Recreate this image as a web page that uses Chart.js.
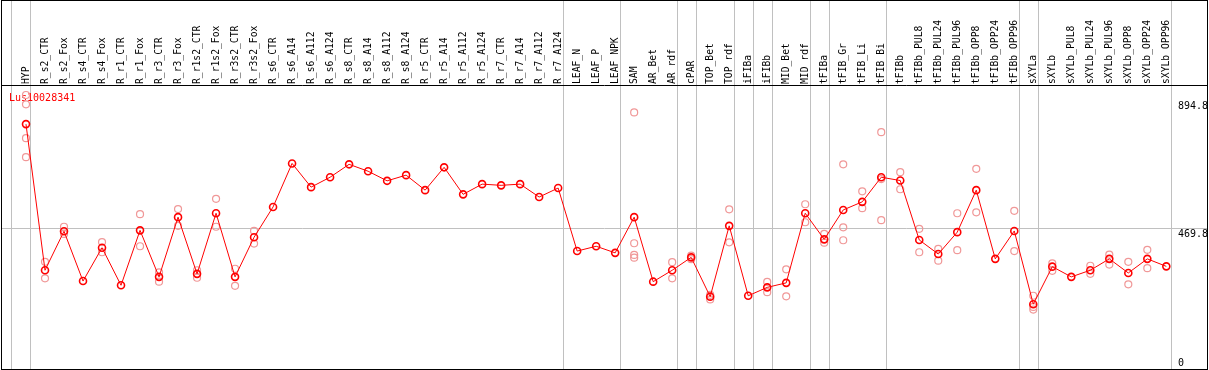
<!DOCTYPE html>
<html>
<head>
<meta charset="utf-8">
<script src="https://cdn.jsdelivr.net/npm/chart.js@4.4.0/dist/chart.umd.min.js"></script>
<style>
  html, body { margin: 0; padding: 0; background: #fff; }
  canvas { display: block; }
</style>
</head>
<body>
<canvas id="exprChart" width="1209" height="370"></canvas>
<script>
// gene + sample names
const geneName = 'Lus10028341';
const categories = [
  'HYP', 'R_s2_CTR', 'R_s2_Fox', 'R_s4_CTR', 'R_s4_Fox', 'R_r1_CTR', 'R_r1_Fox', 'R_r3_CTR', 'R_r3_Fox',
  'R_r1s2_CTR', 'R_r1s2_Fox', 'R_r3s2_CTR', 'R_r3s2_Fox', 'R_s6_CTR', 'R_s6_A14', 'R_s6_A112', 'R_s6_A124',
  'R_s8_CTR', 'R_s8_A14', 'R_s8_A112', 'R_s8_A124', 'R_r5_CTR', 'R_r5_A14', 'R_r5_A112', 'R_r5_A124',
  'R_r7_CTR', 'R_r7_A14', 'R_r7_A112', 'R_r7_A124', 'LEAF_N', 'LEAF_P', 'LEAF_NPK', 'SAM', 'AR_Bet', 'AR_rdf',
  'cPAR', 'TOP_Bet', 'TOP_rdf', 'iFIBa', 'iFIBb', 'MID_Bet', 'MID_rdf', 'tFIBa', 'tFIB_Gr', 'tFIB_Li', 'tFIB_Bi',
  'tFIBb', 'tFIBb_PUL8', 'tFIBb_PUL24', 'tFIBb_PUL96', 'tFIBb_OPP8', 'tFIBb_OPP24', 'tFIBb_OPP96',
  'sXYLa', 'sXYLb', 'sXYLb_PUL8', 'sXYLb_PUL24', 'sXYLb_PUL96', 'sXYLb_OPP8', 'sXYLb_OPP24', 'sXYLb_OPP96'
];

// mean expression per sample
const means = [
  816, 329, 459, 293, 404, 279, 462, 307, 506, 317, 519, 307, 439, 540, 685, 606, 639,
  682, 659, 627, 646, 596, 672, 582, 616, 612, 616, 573, 603, 393, 409, 387, 506, 291, 329,
  372, 241, 477, 244, 272, 287, 519, 432, 530, 557, 639,
  628, 430, 383, 456, 596, 367, 460,
  216, 341, 307, 329, 367, 320, 367, 342
];

// individual replicates (only the ones that stand apart from the mean)
const replicates = [
  [913, 882, 769, 706], [357, 302], [474, 450], [], [423, 389], [], [516, 409], [322, 291], [533, 477],
  [329, 304], [567, 474], [334, 277], [460, 418], [], [], [], [],
  [], [], [], [], [], [], [], [],
  [], [], [], [], [], [], [], [855, 419, 380, 371], [], [356, 302],
  [378, 366], [247, 232], [532, 422], [], [290, 256], [332, 242], [549, 489], [450, 421], [682, 472, 429], [592, 536], [789, 633, 496],
  [656, 599], [467, 389], [400, 361], [519, 396], [667, 522], [], [527, 393],
  [244, 198, 207], [352, 327], [], [344, 317], [381, 348], [357, 282], [397, 336], []
];

// last sample index of each group (-1 = left edge)
const groupEnds = [-1, 0, 28, 31, 34, 35, 37, 38, 39, 41, 42, 45, 52, 53, 60];
const yTicks = [0, 469.8, 894.8];

const monoFont = '"DejaVu Sans Mono", monospace';

const repPoints = [];
replicates.forEach((list, i) => {
  list.forEach(v => repPoints.push({ x: i, y: v }));
});

const framePlugin = {
  id: 'frame',
  beforeDatasetsDraw(chart) {
    const { ctx, chartArea: a, scales: { x } } = chart;
    ctx.save();
    ctx.strokeStyle = '#c0c0c0';
    ctx.lineWidth = 1;
    groupEnds.forEach(g => {
      const px = Math.round(x.getPixelForValue(g + 0.235)) + 0.5;
      ctx.beginPath();
      ctx.moveTo(px, 0);
      ctx.lineTo(px, a.bottom);
      ctx.stroke();
    });
    ctx.fillStyle = '#ff0000';
    ctx.font = '10px ' + monoFont;
    ctx.textBaseline = 'alphabetic';
    ctx.fillText(geneName, a.left + 8, a.top + 15);
    ctx.restore();
  },
  afterDraw(chart) {
    const { ctx, chartArea: a } = chart;
    ctx.save();
    ctx.strokeStyle = '#000';
    ctx.lineWidth = 1;
    ctx.strokeRect(1.5, 0.5, 1206, 369);
    ctx.beginPath();
    ctx.moveTo(1, a.top - 0.5);
    ctx.lineTo(1208, a.top - 0.5);
    ctx.stroke();
    ctx.restore();
  }
};

// pad to 5 chars so the right-aligned mirror labels all start at the same x
const tickText = v => String(v).padEnd(5, ' ');

new Chart(document.getElementById('exprChart'), {
  type: 'line',
  data: {
    datasets: [
      {
        label: geneName,
        data: means.map((v, i) => ({ x: i, y: v })),
        borderColor: '#ff0000',
        borderWidth: 1,
        pointStyle: 'circle',
        pointRadius: 3.5,
        pointBorderWidth: 1.6,
        pointBorderColor: '#ff0000',
        pointBackgroundColor: 'rgba(0,0,0,0)',
        tension: 0,
        order: 0
      },
      {
        label: 'replicates',
        data: repPoints,
        showLine: false,
        pointStyle: 'circle',
        pointRadius: 3.5,
        pointBorderWidth: 1.2,
        pointBorderColor: '#f09898',
        pointBackgroundColor: 'rgba(0,0,0,0)',
        order: 1
      }
    ]
  },
  options: {
    responsive: false,
    animation: false,
    layout: { autoPadding: false, padding: { left: 1, bottom: 1, top: 0, right: 0 } },
    plugins: {
      legend: { display: false },
      tooltip: { enabled: false },
      title: { display: false }
    },
    scales: {
      x: {
        type: 'linear',
        position: 'top',
        min: -1.3154,
        max: 62.193,
        afterBuildTicks: s => { s.ticks = categories.map((_, i) => ({ value: i })); },
        afterFit: s => {
          s.height = 86;
          s.paddingLeft = 0;
          s.paddingRight = 0;
        },
        grid: { display: false, drawTicks: false },
        border: { display: false },
        ticks: {
          autoSkip: false,
          minRotation: 90,
          maxRotation: 90,
          padding: 2,
          color: '#000',
          font: { family: monoFont, size: 9.7, lineHeight: 0 },
          callback: v => categories[v] ?? ''
        }
      },
      y: {
        type: 'linear',
        position: 'right',
        min: 0,
        max: 943,
        afterBuildTicks: s => { s.ticks = yTicks.map(v => ({ value: v })); },
        afterFit: s => {
          s.width = 1;
          s.paddingTop = 0;
          s.paddingBottom = 0;
        },
        grid: {
          drawTicks: false,
          color: c => (c.tick && c.tick.value === 469.8 ? '#c0c0c0' : 'rgba(0,0,0,0)')
        },
        border: { display: false },
        ticks: {
          mirror: true,
          padding: 0,
          color: '#000',
          font: { family: monoFont, size: 10, lineHeight: 1.2 },
          callback: v => (v === 0 ? [tickText(v), ''] : ['', tickText(v)])
        }
      }
    }
  },
  plugins: [framePlugin]
});
</script>
</body>
</html>
